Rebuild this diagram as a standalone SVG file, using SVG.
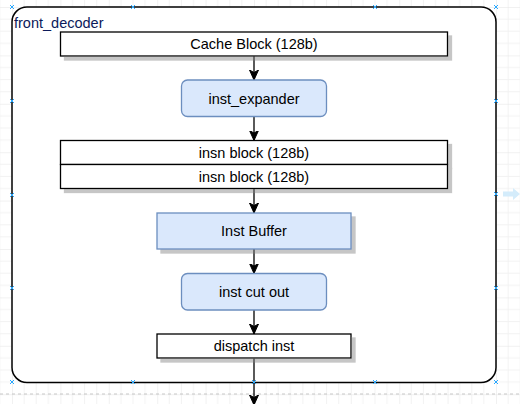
<svg xmlns="http://www.w3.org/2000/svg" width="520" height="404" viewBox="0 0 520 404">
  <defs>
    <pattern id="grid" x="12" y="7" width="48.4" height="48.4" patternUnits="userSpaceOnUse">
      <path d="M12.1,0V48.4M24.2,0V48.4M36.3,0V48.4M0,12.1H48.4M0,24.2H48.4M0,36.3H48.4" stroke="#f2f2f2" stroke-width="1" fill="none"/>
      <path d="M0,0V48.4M0,0H48.4" stroke="#e4e4e4" stroke-width="1" fill="none"/>
    </pattern>
    <marker id="arrow" markerUnits="userSpaceOnUse" markerWidth="12" markerHeight="12" refX="10" refY="5" orient="auto" viewBox="0 0 12 12">
      <path d="M0,0.5 L10,5 L0,9.5 L2.5,5 Z" fill="#000" stroke="#000" stroke-width="1"/>
    </marker>
    <filter id="shadow" x="-10%" y="-10%" width="130%" height="140%">
      <feOffset dx="3.6" dy="3.6" in="SourceAlpha" result="o"/>
      <feFlood flood-color="#808080" flood-opacity="0.45"/>
      <feComposite in2="o" operator="in" result="s"/>
      <feMerge><feMergeNode in="s"/><feMergeNode in="SourceGraphic"/></feMerge>
    </filter>
  </defs>
  <style>
    .lbl { font-family: "Liberation Sans", Arial, sans-serif; font-size: 14.5px; fill: #000; text-anchor: middle; }
    .plain { fill: #ffffff; stroke: #000; stroke-width: 1.3; }
    .blue { fill: #dae8fc; stroke: #6c8ebf; stroke-width: 1.3; }
    .edge { stroke: #000; stroke-width: 1.3; fill: none; marker-end: url(#arrow); }
    .handle { stroke: #29a8ff; stroke-width: 1; fill: none; }
  </style>

  <rect x="0" y="0" width="520" height="404" fill="#ffffff"/>
  <rect x="0" y="0" width="520" height="404" fill="url(#grid)"/>
  <line x1="0" y1="394" x2="520" y2="394" stroke="#c6c6c6" stroke-width="1" stroke-dasharray="3,3"/>

  <g id="front_decoder">
    <rect x="12" y="7" width="484" height="375.5" rx="15" ry="15" fill="#ffffff" stroke="#000" stroke-width="1.5"/>
    <text x="14" y="28" font-family="'Liberation Sans', Arial, sans-serif" font-size="14.5" fill="#0c1a5a">front_decoder</text>
  </g>

  <g id="connectors">
    <line class="edge" x1="254" y1="56" x2="254" y2="80"/>
    <line class="edge" x1="254" y1="116.5" x2="254" y2="140.5"/>
    <line class="edge" x1="254" y1="188.5" x2="254" y2="213"/>
    <line class="edge" x1="254" y1="249" x2="254" y2="273.5"/>
    <line class="edge" x1="254" y1="310" x2="254" y2="334"/>
    <line class="edge" x1="254" y1="358.5" x2="254" y2="405"/>
  </g>

  <g id="cache_block">
    <rect class="plain" x="60.5" y="32" width="387" height="24" filter="url(#shadow)"/>
    <text class="lbl" x="254" y="49">Cache Block (128b)</text>
  </g>

  <g id="inst_expander">
    <rect class="blue" x="181.5" y="80" width="145" height="36.5" rx="6" ry="6"/>
    <text class="lbl" x="254" y="103.5">inst_expander</text>
  </g>

  <g id="insn_blocks">
    <g filter="url(#shadow)">
      <rect class="plain" x="60.5" y="140.5" width="387" height="24"/>
      <rect class="plain" x="60.5" y="164.5" width="387" height="24"/>
    </g>
    <text class="lbl" x="254" y="157.5">insn block (128b)</text>
    <text class="lbl" x="254" y="181.5">insn block (128b)</text>
  </g>

  <g id="inst_buffer">
    <rect class="blue" x="157" y="213" width="194" height="36" filter="url(#shadow)"/>
    <text class="lbl" x="254" y="236">Inst Buffer</text>
  </g>

  <g id="inst_cut_out">
    <rect class="blue" x="181.5" y="273.5" width="145" height="36.5" rx="6" ry="6"/>
    <text class="lbl" x="254" y="297">inst cut out</text>
  </g>

  <g id="dispatch_inst">
    <rect class="plain" x="157" y="334" width="194" height="24" filter="url(#shadow)"/>
    <text class="lbl" x="254" y="351">dispatch inst</text>
  </g>

  <g id="handles">
    <path class="handle" d="M10,5l4,4m0,-4l-4,4 M131,5l4,4m0,-4l-4,4 M373,5l4,4m0,-4l-4,4 M494,5l4,4m0,-4l-4,4
      M10,99l4,4m0,-4l-4,4 M10,193l4,4m0,-4l-4,4 M10,286l4,4m0,-4l-4,4 M10,380l4,4m0,-4l-4,4
      M494,99l4,4m0,-4l-4,4 M494,192l4,4m0,-4l-4,4 M494,286l4,4m0,-4l-4,4 M494,380l4,4m0,-4l-4,4
      M131,380l4,4m0,-4l-4,4 M373,380l4,4m0,-4l-4,4 M252,380l4,4m0,-4l-4,4"/>
    <path d="M503,191.5h10v-3.5l7,6l-7,6v-3.5h-10z" fill="#d4ecfb"/>
  </g>
</svg>
